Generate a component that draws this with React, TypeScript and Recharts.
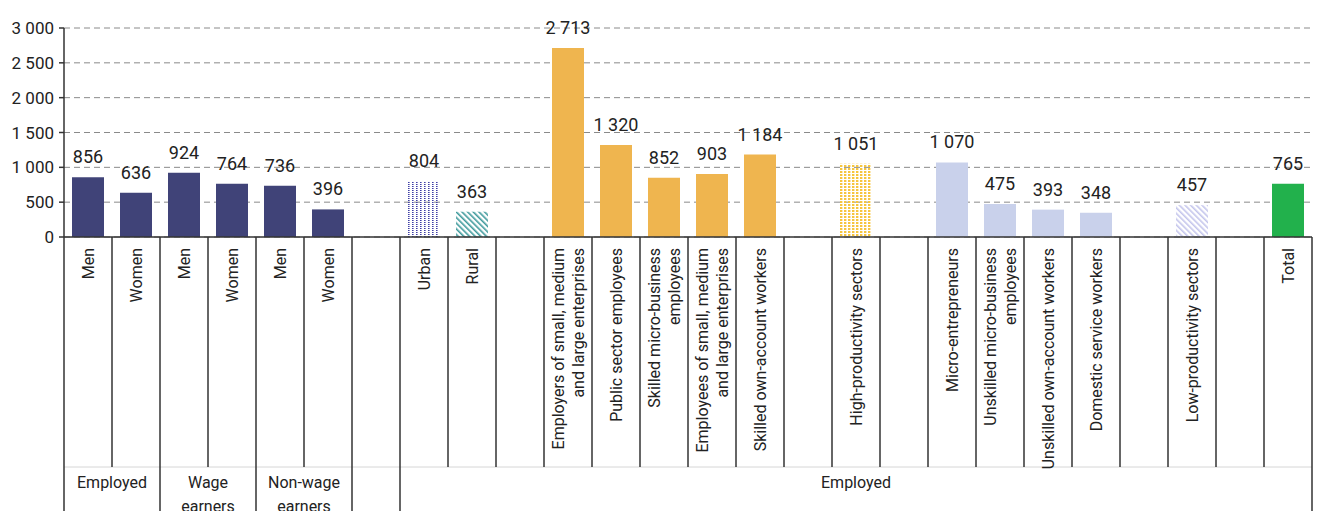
import { BarChart, Bar, XAxis, YAxis, CartesianGrid, Cell, LabelList } from 'recharts';

// categories along the axis ('' = empty spacer slot, \n = line break)
const CATEGORIES = [
  'Men', 'Women', 'Men', 'Women', 'Men', 'Women', '',
  'Urban', 'Rural', '',
  'Employers of small, medium\nand large enterprises',
  'Public sector employees',
  'Skilled micro-business\nemployees',
  'Employees of small, medium\nand large enterprises',
  'Skilled own-account workers',
  '',
  'High-productivity sectors',
  '',
  'Micro-entrepreneurs',
  'Unskilled micro-business\nemployees',
  'Unskilled own-account workers',
  'Domestic service workers',
  '',
  'Low-productivity sectors',
  '',
  'Total',
];

const VALUES: (number | null)[] = [
  856, 636, 924, 764, 736, 396, null,
  804, 363, null,
  2713, 1320, 852, 903, 1184,
  null,
  1051,
  null,
  1070, 475, 393, 348,
  null,
  457,
  null,
  765,
];

const KINDS = [
  'sex', 'sex', 'sex', 'sex', 'sex', 'sex', '',
  'urban', 'rural', '',
  'high', 'high', 'high', 'high', 'high',
  '',
  'highSector',
  '',
  'low', 'low', 'low', 'low',
  '',
  'lowSector',
  '',
  'total',
];

// bottom grouping row
const GROUP_LABELS = ['Employed', 'Wage\nearners', 'Non-wage\nearners', '', 'Employed'];
const GROUP_SPANS = [2, 2, 2, 1, 19];

const Y_TICKS = [0, 500, 1000, 1500, 2000, 2500, 3000];

const WIDTH = 1318;
const HEIGHT = 511;
const MARGIN = { top: 28, right: 6, bottom: 0, left: 0 };
const Y_AXIS_W = 64;
const X_AXIS_H = HEIGHT - 237;
const BAND = (WIDTH - MARGIN.left - MARGIN.right - Y_AXIS_W) / CATEGORIES.length;
const FONT = 'Roboto, "Liberation Sans", sans-serif';
const LINE = '#333';

const FILL_BY_KIND: Record<string, string> = {
  sex: '#404378',
  urban: 'url(#dotsNavy)',
  rural: 'url(#stripesTeal)',
  high: '#efb54f',
  highSector: 'url(#dotsYellow)',
  low: '#c9d1eb',
  lowSector: 'url(#stripesLilac)',
  total: '#22b14c',
};

const data = CATEGORIES.map((name, i) => ({ id: i, name, value: VALUES[i], kind: KINDS[i] }));

const groupStarts: number[] = [];
GROUP_SPANS.reduce((acc, s) => {
  groupStarts.push(acc);
  return acc + s;
}, 0);

const fmt = (v: any) =>
  v == null || v === '' ? '' : String(v).replace(/\B(?=(\d{3})+(?!\d))/g, ' ');

// value label above each bar, kept on one line
const ValueLabel = (props: any) => {
  const { x, y, width, value } = props;
  if (value == null) return null;
  return (
    <text
      x={Number(x) + Number(width) / 2}
      y={Number(y) - 14}
      textAnchor="middle"
      fontFamily={FONT}
      fontSize={18}
      fill="#222"
    >
      {fmt(value)}
    </text>
  );
};

function CategoryTick(props: any) {
  const { x, y, payload } = props;
  const i = Number(payload.value);
  const left = x - BAND / 2;
  const lines = CATEGORIES[i] ? CATEGORIES[i].split('\n') : [];
  const long = groupStarts.includes(i);
  const last = i === CATEGORIES.length - 1;
  const g = groupStarts.indexOf(i);
  const groupLines = g >= 0 && GROUP_LABELS[g] ? GROUP_LABELS[g].split('\n') : [];
  const groupCx = g >= 0 ? left + (GROUP_SPANS[g] * BAND) / 2 : 0;

  return (
    <g>
      <line x1={left} x2={left + BAND} y1={y + 230} y2={y + 230} stroke="#d6d6d6" strokeWidth={1} />
      <line x1={left} x2={left} y1={y} y2={long ? HEIGHT : y + 230} stroke={LINE} strokeWidth={1.5} />
      {last && (
        <line x1={left + BAND} x2={left + BAND} y1={y} y2={HEIGHT} stroke={LINE} strokeWidth={1.5} />
      )}
      {lines.length > 0 && (
        <text
          transform={`translate(${x},${y + 11}) rotate(-90)`}
          textAnchor="end"
          fontFamily={FONT}
          fontSize={16}
          fill="#222"
        >
          {lines.map((l, k) => (
            <tspan key={k} x={0} y={(k - (lines.length - 1) / 2) * 20 + 6}>
              {l}
            </tspan>
          ))}
        </text>
      )}
      {groupLines.length > 0 && (
        <text textAnchor="middle" fontFamily={FONT} fontSize={16} fill="#222">
          {groupLines.map((l, k) => (
            <tspan key={k} x={groupCx} y={y + 251 + k * 24}>
              {l}
            </tspan>
          ))}
        </text>
      )}
    </g>
  );
}

export default function App() {
  return (
    <div style={{ width: WIDTH, height: HEIGHT, background: '#fff' }}>
      <style>{'body{margin:0}'}</style>
      <BarChart width={WIDTH} height={HEIGHT} data={data} margin={MARGIN} barCategoryGap={8}>
        <defs>
          <pattern id="dotsNavy" width={4} height={2} patternUnits="userSpaceOnUse">
            <rect x={0} y={0} width={1.6} height={1} fill="#3f3fa6" />
          </pattern>
          <pattern id="dotsYellow" width={4} height={3} patternUnits="userSpaceOnUse">
            <rect x={0} y={0} width={2.4} height={2} fill="#f6c53e" />
          </pattern>
          <pattern id="stripesTeal" width={4} height={4} patternUnits="userSpaceOnUse" patternTransform="rotate(-45)">
            <rect x={0} y={0} width={1.6} height={4} fill="#3f9a9c" />
          </pattern>
          <pattern id="stripesLilac" width={4} height={4} patternUnits="userSpaceOnUse" patternTransform="rotate(-45)">
            <rect x={0} y={0} width={1.6} height={4} fill="#c4c5ec" />
          </pattern>
        </defs>
        <CartesianGrid vertical={false} stroke="#8a8a8a" strokeDasharray="6 4" />
        <XAxis
          dataKey="id"
          type="category"
          interval={0}
          height={X_AXIS_H}
          tickLine={false}
          tickSize={0}
          tickMargin={0}
          axisLine={{ stroke: LINE, strokeWidth: 1.5 }}
          tick={<CategoryTick />}
        />
        <YAxis
          width={Y_AXIS_W}
          domain={[0, 3000]}
          ticks={Y_TICKS}
          interval={0}
          tickFormatter={fmt}
          tickSize={5}
          tickMargin={5}
          axisLine={{ stroke: LINE, strokeWidth: 1.5 }}
          tickLine={{ stroke: LINE, strokeWidth: 1.5 }}
          tick={{ fontSize: 17, fill: '#222', fontFamily: FONT }}
        />
        <Bar dataKey="value" isAnimationActive={false}>
          {data.map((d) => (
            <Cell key={d.id} fill={FILL_BY_KIND[d.kind] || 'none'} />
          ))}
          <LabelList dataKey="value" content={ValueLabel} />
        </Bar>
      </BarChart>
    </div>
  );
}
